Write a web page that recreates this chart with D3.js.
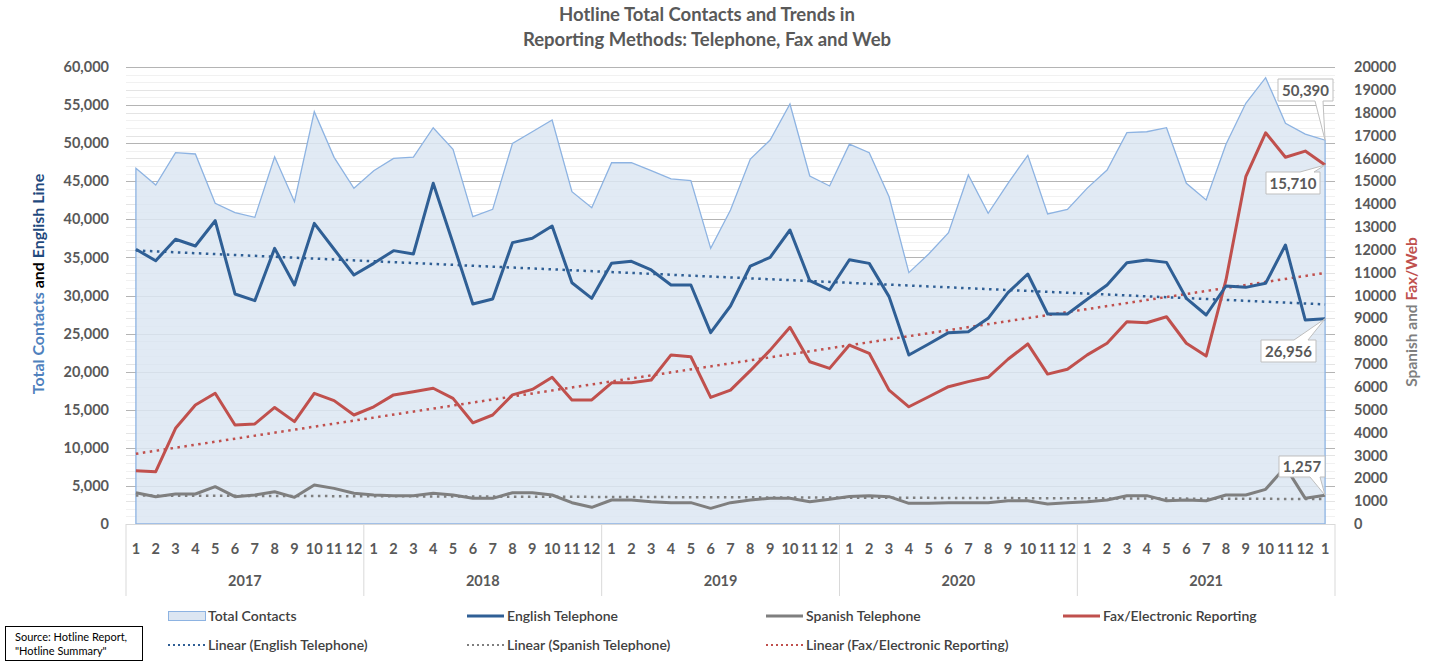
<!DOCTYPE html>
<html>
<head>
<meta charset="utf-8">
<script src="https://cdn.jsdelivr.net/npm/d3@7"></script>
<style>
  body { margin: 0; background: #fff; }
  text { font-family: Lato, "Open Sans", sans-serif; }
</style>
</head>
<body>
<script>
// month numbers and year groups on the category axis
const years = ["2017", "2018", "2019", "2020", "2021"];
const monthLabels = ["1","2","3","4","5","6","7","8","9","10","11","12"];

// monthly values, Jan 2017 .. Jan 2022 (61 points)
const totalContacts = [46700, 44500, 48750, 48580, 42100, 40870, 40260, 48220, 42320, 54130, 48140, 44070,
  46390, 48010, 48180, 52030, 49190, 40350, 41310, 49980, 51500, 53040, 43630, 41530,
  47430, 47430, 46390, 45300, 45080, 36190, 41220, 47920, 50410, 55140, 45690, 44380,
  49870, 48750, 42970, 33000, 35450, 38250, 45820, 40790, 44730, 48400, 40700, 41310,
  44100, 46480, 51380, 51500, 52030, 44730, 42540, 49850, 55230, 58600, 52600, 51200, 50390];

const englishPhone = [36070, 34570, 37380, 36500, 39820, 30200, 29320, 36190, 31380, 39470, 36070, 32690,
  34220, 35890, 35450, 44730, 36850, 28880, 29540, 36940, 37510, 39120, 31680, 29630,
  34220, 34490, 33350, 31380, 31380, 25120, 28620, 33870, 35010, 38600, 31940, 30720,
  34700, 34220, 29850, 22190, 23630, 25120, 25250, 27000, 30370, 32820, 27570, 27570,
  29500, 31380, 34310, 34660, 34350, 29630, 27440, 31250, 31070, 31600, 36630, 26780, 26956];

const spanishPhone = [1370, 1195, 1313, 1313, 1633, 1195, 1270, 1414, 1167, 1707, 1560, 1343,
  1270, 1240, 1240, 1343, 1270, 1123, 1123, 1370, 1370, 1270, 933, 730,
  1050, 1050, 977, 933, 933, 686, 933, 1050, 1123, 1123, 977, 1080,
  1200, 1240, 1195, 905, 905, 933, 933, 933, 1020, 1020, 875, 933,
  977, 1050, 1240, 1240, 1020, 1050, 1020, 1270, 1270, 1517, 2500, 1123, 1257];

const faxWeb = [2330, 2290, 4190, 5210, 5720, 4330, 4380, 5100, 4480, 5720, 5400, 4770,
  5130, 5650, 5790, 5940, 5500, 4430, 4770, 5650, 5890, 6420, 5430, 5430,
  6180, 6180, 6300, 7400, 7320, 5540, 5860, 6710, 7610, 8610, 7100, 6810,
  7830, 7470, 5860, 5130, 5570, 6010, 6230, 6420, 7210, 7880, 6560, 6770,
  7400, 7910, 8850, 8810, 9070, 7910, 7350, 10680, 15200, 17120, 16050, 16320, 15710];

// build the category list (last Jan sits in the 2021 group, as in the original)
const cats = [];
years.forEach(y => monthLabels.forEach(m => cats.push({ year: y, month: m })));
cats.push({ year: "2021", month: "1" });
const idx = d3.range(cats.length);

const W = 1435, H = 662;
const plotL = 126, plotR = 1335, plotT = 67, plotB = 524;

const svg = d3.select("body").append("svg").attr("width", W).attr("height", H);

const x = d3.scaleBand().domain(idx).range([plotL, plotR]).padding(0);
const cx = i => x(i) + x.bandwidth() / 2;
const yL = d3.scaleLinear().domain([0, 60000]).range([plotB, plotT]);
const yR = d3.scaleLinear().domain([0, 20000]).range([plotB, plotT]);

// gridlines: faint minor ones first, then the left major ones
svg.append("g").selectAll("line").data(d3.range(1000, 60001, 1000))
  .enter().append("line")
    .attr("x1", plotL).attr("x2", plotR)
    .attr("y1", d => Math.round(yL(d)) + 0.5).attr("y2", d => Math.round(yL(d)) + 0.5)
    .attr("stroke", "#f1f1f1");
svg.append("g").selectAll("line").data(d3.range(1000, 20001, 1000))
  .enter().append("line")
    .attr("x1", plotL).attr("x2", plotR)
    .attr("y1", d => Math.round(yR(d)) + 0.5).attr("y2", d => Math.round(yR(d)) + 0.5)
    .attr("stroke", "#e4e4e4");
svg.append("g").selectAll("line").data(d3.range(5000, 60001, 5000))
  .enter().append("line")
    .attr("x1", plotL).attr("x2", plotR)
    .attr("y1", d => Math.round(yL(d)) + 0.5).attr("y2", d => Math.round(yL(d)) + 0.5)
    .attr("stroke", "#b4b4b4");

// total contacts area
const area = d3.area().x(cx).y0(plotB).y1(i => yL(totalContacts[i]));
svg.append("path").datum(idx)
  .attr("d", area)
  .attr("fill", "#dce6f2").attr("fill-opacity", 0.85)
  .attr("stroke", "#8db3e2").attr("stroke-width", 1.3);

// linear trend (least squares), like the spreadsheet trendline
function trend(vals) {
  const n = vals.length, mx = d3.mean(idx), my = d3.mean(vals);
  let sxy = 0, sxx = 0;
  vals.forEach((v, i) => { sxy += (i - mx) * (v - my); sxx += (i - mx) * (i - mx); });
  const b = sxy / sxx, a = my - b * mx;
  return [0, n - 1].map(i => ({ i: i, v: a + b * i }));
}

const series = [
  { vals: englishPhone, y: yL, color: "#2f5f95" },
  { vals: spanishPhone, y: yR, color: "#7f7f7f" },
  { vals: faxWeb, y: yR, color: "#c0504d" }
];

series.forEach(s => {
  svg.append("path").datum(trend(s.vals))
    .attr("d", d3.line().x(d => cx(d.i)).y(d => s.y(d.v)))
    .attr("fill", "none").attr("stroke", s.color)
    .attr("stroke-width", 2.5).attr("stroke-dasharray", "2.5,4.5");
});
series.slice().reverse().forEach(s => {
  svg.append("path").datum(idx)
    .attr("d", d3.line().x(cx).y(i => s.y(s.vals[i])))
    .attr("fill", "none").attr("stroke", s.color)
    .attr("stroke-width", 3).attr("stroke-linejoin", "round");
});

// category axis
svg.append("line").attr("x1", plotL).attr("x2", plotR)
  .attr("y1", plotB + 0.5).attr("y2", plotB + 0.5).attr("stroke", "#d9d9d9");
const bounds = [0, 12, 24, 36, 48, 61];
svg.append("g").selectAll("line").data(bounds)
  .enter().append("line")
    .attr("x1", d => d < 61 ? x(d) : plotR).attr("x2", d => d < 61 ? x(d) : plotR)
    .attr("y1", plotB).attr("y2", 596)
    .attr("stroke", "#d9d9d9");
svg.append("g").selectAll("text").data(idx)
  .enter().append("text")
    .attr("x", cx).attr("y", 554)
    .attr("text-anchor", "middle")
    .attr("font-size", 14.5).attr("font-weight", "bold").attr("fill", "#595959")
    .text(i => cats[i].month);
svg.append("g").selectAll("text").data(years)
  .enter().append("text")
    .attr("x", (d, k) => (x(bounds[k]) + (k < 4 ? x(bounds[k + 1]) : plotR)) / 2)
    .attr("y", 586)
    .attr("text-anchor", "middle")
    .attr("font-size", 14.5).attr("font-weight", "bold").attr("fill", "#595959")
    .text(d => d);

// value axes
const axL = svg.append("g").attr("transform", `translate(${plotL - 14},0)`)
  .call(d3.axisLeft(yL).tickValues(d3.range(0, 60001, 5000)).tickSize(0).tickFormat(d3.format(",")));
const axR = svg.append("g").attr("transform", `translate(${plotR + 16},0)`)
  .call(d3.axisRight(yR).tickValues(d3.range(0, 20001, 1000)).tickSize(0).tickFormat(d3.format("d")));
[axL, axR].forEach(ax => {
  ax.select(".domain").remove();
  ax.selectAll("text")
    .attr("font-family", "Lato, sans-serif").attr("font-size", 14.5)
    .attr("font-weight", "bold").attr("fill", "#595959");
});

// axis titles
const tL = svg.append("text")
  .attr("transform", "translate(44,284) rotate(-90)")
  .attr("text-anchor", "middle").attr("font-size", 16).attr("font-weight", "bold");
tL.append("tspan").attr("fill", "#4f81bd").text("Total Contacts ");
tL.append("tspan").attr("fill", "#000").text("and ");
tL.append("tspan").attr("fill", "#1f497d").text("English Line");

const tR = svg.append("text")
  .attr("transform", "translate(1417,312) rotate(-90)")
  .attr("text-anchor", "middle").attr("font-size", 15.5).attr("font-weight", "bold");
tR.append("tspan").attr("fill", "#7f7f7f").text("Spanish and ");
tR.append("tspan").attr("fill", "#c0504d").text("Fax/Web");

// chart title
svg.append("text").attr("x", 707).attr("y", 21).attr("text-anchor", "middle")
  .attr("font-size", 18.5).attr("font-weight", "bold").attr("fill", "#595959")
  .text("Hotline Total Contacts and Trends in");
svg.append("text").attr("x", 707).attr("y", 46).attr("text-anchor", "middle")
  .attr("font-size", 18.5).attr("font-weight", "bold").attr("fill", "#595959")
  .text("Reporting Methods: Telephone, Fax and Web");

// callout labels on the last point
const last = idx.length - 1;
const callouts = [
  { v: totalContacts[last], y: yL, box: [1278, 79, 1333, 101], side: "bottom", base: [1315, 1323] },
  { v: faxWeb[last], y: yR, box: [1266, 172, 1320, 194], side: "top", base: [1300, 1314] },
  { v: englishPhone[last], y: yL, box: [1261, 340, 1316, 362], side: "top", base: [1294, 1308] },
  { v: spanishPhone[last], y: yR, box: [1279, 456, 1325, 477], side: "bottom", base: [1310, 1320] }
];
callouts.forEach(c => {
  const [x0, y0, x1, y1] = c.box, tx = cx(last), ty = c.y(c.v);
  let p;
  if (c.side === "bottom") {
    p = `M${x0},${y0}H${x1}V${y1}H${c.base[1]}L${tx},${ty}L${c.base[0]},${y1}H${x0}Z`;
  } else {
    p = `M${x0},${y0}H${c.base[0]}L${tx},${ty}L${c.base[1]},${y0}H${x1}V${y1}H${x0}Z`;
  }
  svg.append("path").attr("d", p).attr("fill", "#fff").attr("stroke", "#bfbfbf").attr("stroke-width", 1);
  svg.append("text").attr("x", (x0 + x1) / 2).attr("y", (y0 + y1) / 2 + 5.5)
    .attr("text-anchor", "middle").attr("font-size", 15).attr("font-weight", "bold")
    .attr("fill", "#595959").text(d3.format(",")(c.v));
});

// legend
const legend = [
  { label: "Total Contacts", x: 168, y: 616, kind: "area" },
  { label: "English Telephone", x: 467, y: 616, kind: "line", color: "#2f5f95" },
  { label: "Spanish Telephone", x: 766, y: 616, kind: "line", color: "#7f7f7f" },
  { label: "Fax/Electronic Reporting", x: 1063, y: 616, kind: "line", color: "#c0504d" },
  { label: "Linear (English Telephone)", x: 168, y: 645, kind: "dot", color: "#2f5f95" },
  { label: "Linear (Spanish Telephone)", x: 467, y: 645, kind: "dot", color: "#7f7f7f" },
  { label: "Linear (Fax/Electronic Reporting)", x: 766, y: 645, kind: "dot", color: "#c0504d" }
];
legend.forEach(d => {
  if (d.kind === "area") {
    svg.append("rect").attr("x", d.x + 0.5).attr("y", d.y - 4.5).attr("width", 37).attr("height", 9)
      .attr("fill", "#dce6f2").attr("stroke", "#8db3e2");
  } else {
    svg.append("line").attr("x1", d.x).attr("x2", d.x + 37).attr("y1", d.y).attr("y2", d.y)
      .attr("stroke", d.color)
      .attr("stroke-width", d.kind === "line" ? 3 : 2)
      .attr("stroke-dasharray", d.kind === "dot" ? "2,3" : null);
  }
  svg.append("text").attr("x", d.x + 40).attr("y", d.y + 5)
    .attr("font-size", 14).attr("font-weight", 600).attr("fill", "#404040").text(d.label);
});

// source note
svg.append("rect").attr("x", 5.5).attr("y", 626.5).attr("width", 137).attr("height", 34)
  .attr("fill", "#fff").attr("stroke", "#000");
svg.append("text").attr("x", 15).attr("y", 641).attr("font-size", 11).attr("fill", "#000")
  .text("Source: Hotline Report,");
svg.append("text").attr("x", 15).attr("y", 655).attr("font-size", 11).attr("fill", "#000")
  .text("\"Hotline Summary\"");
</script>
</body>
</html>
